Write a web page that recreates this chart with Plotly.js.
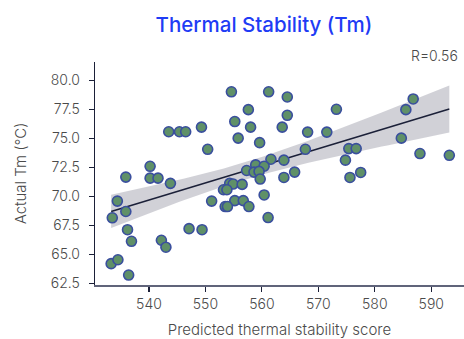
<!DOCTYPE html>
<html>
<head>
<meta charset="utf-8">
<script src="https://cdn.plot.ly/plotly-3.0.1.min.js"></script>
<style>html,body{margin:0;padding:0;background:#fff;}#chart{width:464px;height:339px;}</style>
</head>
<body>
<div id="chart"></div>
<script>
const predictedScore = [554.6,561.2,564.5,557.6,564.5,573.2,555.2,558.0,563.6,568.1,571.5,555.8,559.6,567.7,575.4,576.7,561.6,563.9,574.8,558.9,560.4,557.3,558.6,559.5,565.8,559.7,563.9,575.6,577.5,554.3,554.9,556.5,553.2,553.8,560.4,555.2,556.7,553.5,553.9,557.7,561.1,586.8,585.5,584.7,588.0,593.2,543.5,545.4,546.5,549.3,550.4,540.2,535.9,540.2,541.6,543.8,534.4,535.9,533.5,536.2,536.9,542.2,543.0,547.1,549.4,533.3,534.5,536.4,551.1];
const actualTm = [79.03,79.03,78.58,77.49,77.0,77.52,76.46,75.98,75.98,75.55,75.55,75.03,74.64,74.07,74.13,74.13,73.21,73.13,73.13,72.72,72.61,72.24,72.1,72.16,72.1,71.5,71.64,71.64,72.07,71.13,71.07,71.04,70.58,70.58,70.13,69.64,69.64,69.13,69.13,69.13,68.18,78.41,77.49,75.03,73.7,73.55,75.58,75.58,75.58,75.98,74.07,72.6,71.67,71.58,71.58,71.13,69.6,68.7,68.16,67.13,66.13,66.22,65.62,67.22,67.13,64.2,64.54,63.22,69.6];
const xTicks = [540,550,560,570,580,590];
const yTicks = [62.5,65.0,67.5,70.0,72.5,75.0,77.5,80.0];
const yTickText = ['62.5','65.0','67.5','70.0','72.5','75.0','77.5','80.0'];
const rLabel = 'R=0.56';

// least squares fit and 95% confidence band
const n = predictedScore.length;
const xbar = predictedScore.reduce((a,b)=>a+b,0)/n;
const ybar = actualTm.reduce((a,b)=>a+b,0)/n;
let sxx=0, sxy=0;
for (let i=0;i<n;i++){ sxx += (predictedScore[i]-xbar)**2; sxy += (predictedScore[i]-xbar)*(actualTm[i]-ybar); }
const slope = sxy/sxx, intercept = ybar - slope*xbar;
let sse=0;
for (let i=0;i<n;i++){ sse += (actualTm[i]-(intercept+slope*predictedScore[i]))**2; }
const s = Math.sqrt(sse/(n-2));
const tval = 1.996;
const xmin = Math.min(...predictedScore), xmax = Math.max(...predictedScore);
const gx=[], gy=[], gu=[], gl=[];
for (let k=0;k<=60;k++){
  const x = xmin + (xmax-xmin)*k/60;
  const yh = intercept + slope*x;
  const se = s*Math.sqrt(1/n + (x-xbar)**2/sxx);
  gx.push(x); gy.push(yh); gu.push(yh+tval*se); gl.push(yh-tval*se);
}

const font = "Inter, 'Noto Sans', sans-serif";
const tickFont = {family:font, size:14, color:'#4a4a4a', weight:300};
const traces = [
  {x: gx, y: gu, mode:'lines', line:{width:0, color:'rgba(0,0,0,0)'}, hoverinfo:'skip', showlegend:false},
  {x: gx, y: gl, mode:'lines', line:{width:0, color:'rgba(0,0,0,0)'}, fill:'tonexty', fillcolor:'rgba(190,190,198,0.7)', hoverinfo:'skip', showlegend:false},
  {x: gx, y: gy, mode:'lines', line:{width:1.5, color:'#1b2038'}, showlegend:false},
  {x: predictedScore, y: actualTm, mode:'markers', type:'scatter', showlegend:false,
   marker:{size:10, color:'#5f9068', line:{width:1.6, color:'#3a4f9e'}}}
];
const layout = {
  width:464, height:339,
  margin:{l:95, r:0, t:62, b:54, pad:0},
  paper_bgcolor:'#fff', plot_bgcolor:'#fff',
  font:{family:font, size:14, color:'#4a4a4a'},
  title:{text:'Thermal Stability (Tm)', x:264/464, xanchor:'center', y:1-25/339, yanchor:'middle', yref:'container',
         font:{family:font, size:20.5, color:'#1f3cf5', weight:500}},
  xaxis:{range:[530.44,595.8], tickvals:xTicks, ticktext:xTicks.map(String), showgrid:false, zeroline:false,
         showline:true, linecolor:'#60647a', linewidth:2, ticks:'outside', ticklen:5, tickcolor:'#1b2038', tickwidth:1.2,
         tickfont:tickFont,
         title:{text:'Predicted thermal stability score', standoff:26, font:{family:font, size:15, color:'#4a4a4a', weight:300}}},
  yaxis:{range:[62.36,81.6], tickvals:yTicks, ticktext:yTickText, showgrid:false, zeroline:false,
         showline:true, linecolor:'#1b2038', linewidth:1.3, ticks:'outside', ticklen:5, tickcolor:'#1b2038', tickwidth:1.2,
         ticklabelstandoff:6,
         tickfont:tickFont,
         title:{text:'Actual Tm (°C)', standoff:20, font:{family:font, size:15, color:'#4a4a4a', weight:300}}},
  annotations:[{text:rLabel, xref:'paper', yref:'paper', x:1, y:1.031, xanchor:'right', yanchor:'middle', xshift:-4,
                showarrow:false, font:tickFont}]
};
Plotly.newPlot('chart', traces, layout, {displayModeBar:false, staticPlot:true});
</script>
</body>
</html>
